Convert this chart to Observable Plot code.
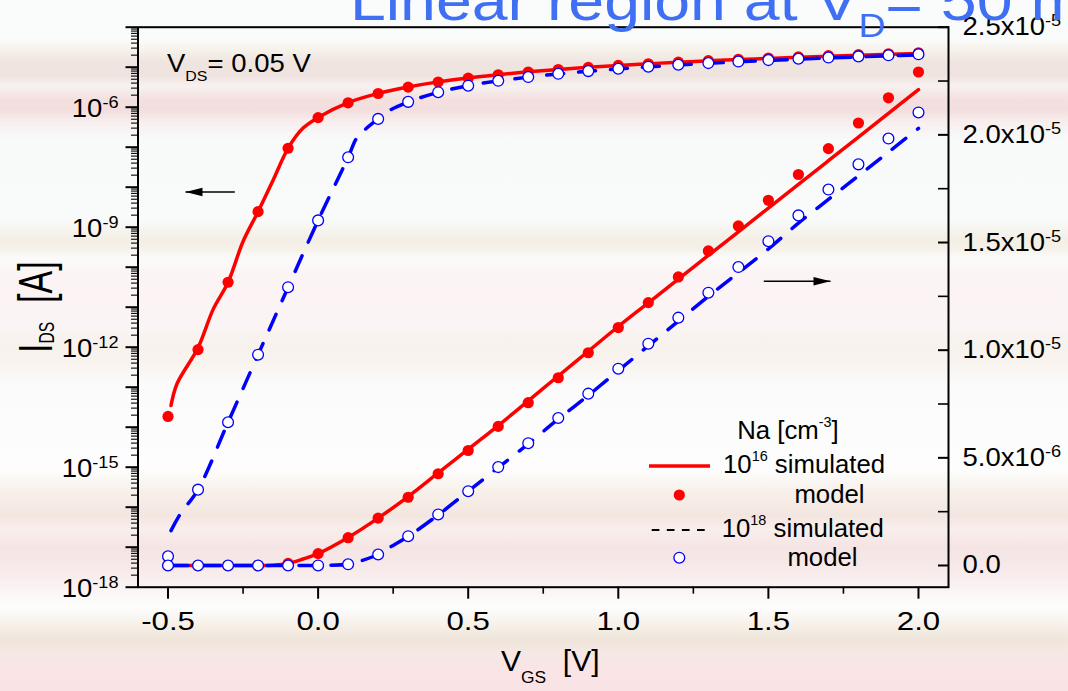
<!DOCTYPE html>
<html><head><meta charset="utf-8">
<script src="https://cdn.jsdelivr.net/npm/d3@7"></script>
<script src="https://cdn.jsdelivr.net/npm/@observablehq/plot@0.6"></script>
<style>
html,body{margin:0;padding:0;width:1068px;height:691px;overflow:hidden;}
body{position:relative;font-family:"Liberation Sans",Arial,sans-serif;
background:linear-gradient(to bottom,
 #fafbfc 0px,#fafbfb 40px,#f6f2ea 50px,#f0e4df 62px,#efe3df 75px,#f7f1ef 86px,#f3e0df 100px,#f2dede 110px,#f8eeee 122px,#f8fafa 140px,
 #f8fbfa 220px,#f4efe6 238px,#f5f0e8 248px,#fbfbfa 258px,#fbf3f4 275px,#fbf4f5 325px,#f7f2ec 345px,#f8f3ee 362px,#fbfbfb 385px,
 #fdfdfd 470px,#f7f1ea 490px,#f3e6e0 515px,#f8eeec 530px,#f5e4e4 548px,#f8ecec 575px,#fbf6f5 592px,#fdfdfd 608px,#f6f0e8 625px,
 #efe5da 640px,#f5e8e4 652px,#f9e4e6 668px,#f9e3e5 691px);}
#chart{position:absolute;left:0;top:0;}
#overlay{position:absolute;left:0;top:0;pointer-events:none;overflow:hidden;}
</style></head><body>
<div id="chart"></div>
<svg id="overlay" width="1068" height="691"></svg>
<script>
// ---------- data ----------
const vgs = [-0.5,-0.4,-0.3,-0.2,-0.1,0.0,0.1,0.2,0.3,0.4,0.5,0.6,0.7,0.8,0.9,1.0,1.1,1.2,1.3,1.4,1.5,1.6,1.7,1.8,1.9,2.0];
// model, Na = 1e16 cm^-3 (filled red)
const model16 = [1.86e-14,8.7e-13,4.2e-11,2.45e-9,9.4e-8,5.5e-7,1.29e-6,2.2e-6,3.17e-6,4.26e-6,5.34e-6,6.46e-6,7.56e-6,8.72e-6,9.88e-6,1.105e-5,1.221e-5,1.34e-5,1.461e-5,1.577e-5,1.696e-5,1.816e-5,1.936e-5,2.055e-5,2.172e-5,2.292e-5];
// model, Na = 1e18 cm^-3 (open blue)
const model18 = [5.9e-18,2.75e-16,1.33e-14,6.5e-13,3.16e-11,1.48e-9,5.6e-8,5.1e-7,1.36e-6,2.37e-6,3.45e-6,4.57e-6,5.68e-6,6.85e-6,7.98e-6,9.14e-6,1.03e-5,1.151e-5,1.267e-5,1.386e-5,1.506e-5,1.626e-5,1.746e-5,1.863e-5,1.983e-5,2.104e-5];
// simulated, Na = 1e16 (solid red)
const sim16X = [-0.49,-0.47,-0.4,-0.35,-0.3,-0.25,-0.2,-0.15,-0.1,-0.05,0.0,0.1,0.2,0.3,0.4,0.5,0.6,0.7,0.8,0.9,1.0,1.1,1.2,1.3,1.4,1.5,1.6,1.7,1.8,1.9,2.0];
const sim16 = [3.5e-14,1.22e-13,9.7e-13,8.7e-12,4.2e-11,4.4e-10,2.45e-9,1.5e-8,9.4e-8,3.0e-7,5.5e-7,1.3e-6,2.2e-6,3.2e-6,4.3e-6,5.4e-6,6.5e-6,7.65e-6,8.8e-6,9.95e-6,1.11e-5,1.22e-5,1.33e-5,1.44e-5,1.55e-5,1.66e-5,1.77e-5,1.88e-5,1.99e-5,2.10e-5,2.21e-5];
// simulated, Na = 1e18 (dashed blue)
const sim18X = [-0.49,-0.46,-0.4,-0.3,-0.2,-0.1,0.0,0.1,0.127,0.15,0.2,0.24,0.3,0.4,0.5,0.6,0.7,0.8,0.9,1.0,1.1,1.2,1.3,1.4,1.5,1.6,1.7,1.8,1.9,2.0];
const sim18 = [2.6e-17,6.6e-17,2.75e-16,1.33e-14,6.5e-13,3.16e-11,1.48e-9,5.6e-8,1.62e-7,2.5e-7,5.1e-7,8.5e-7,1.35e-6,2.35e-6,3.45e-6,4.55e-6,5.65e-6,6.8e-6,7.9e-6,9.05e-6,1.02e-5,1.135e-5,1.25e-5,1.36e-5,1.47e-5,1.59e-5,1.70e-5,1.81e-5,1.92e-5,2.03e-5];

// axes
const xDomain = [-0.6, 2.1];
const xTicks = [-0.5,0.0,0.5,1.0,1.5,2.0];
const xMinorTicks = [-0.25,0.25,0.75,1.25,1.75];
const logDomain = [1e-18, 1e-4];
const logLabelTicks = [1e-18,1e-15,1e-12,1e-9,1e-6];
const logTickLabels = ["10^{-18}","10^{-15}","10^{-12}","10^{-9}","10^{-6}"];
const linDomain = [-1.008e-6, 2.5e-5];
const linTicks = [0,5e-6,1e-5,1.5e-5,2e-5,2.5e-5];
const linTickLabels = ["0.0","5.0x10^{-6}","1.0x10^{-5}","1.5x10^{-5}","2.0x10^{-5}","2.5x10^{-5}"];
const linMinorTicks = [2.5e-6,7.5e-6,1.25e-5,1.75e-5,2.25e-5];
// annotation arrows
const arrows = [
  {x1:-0.2775, x2:-0.4418, y:7.6e-9, axis:"log"},
  {x1:1.4847, x2:1.7069, y:1.32e-5, axis:"lin"}
];

// ---------- helpers ----------
const L0 = Math.log10(logDomain[0]), L1 = Math.log10(logDomain[1]);
const lin2y = v => 10 ** (L0 + (L1 - L0) * (v - linDomain[0]) / (linDomain[1] - linDomain[0]));
const decades = d3.range(-18, -3).map(e => 10 ** e);
const logMinor = [];
for (let e = -18; e < -4; e++) for (let m = 2; m <= 9; m++) logMinor.push(m * 10 ** e);

const rows = (xs, ys) => xs.map((x, i) => ({x, y: ys[i]}));
const m16 = rows(vgs, model16), m18 = rows(vgs, model18);
const s16 = rows(sim16X, sim16), s18 = rows(sim18X, sim18);
const ly = d => lin2y(d.y);

const RED = "#ff0000", BLUE = "#0000ff";
const headRight = {draw(c){c.moveTo(0,0);c.lineTo(-17,-4.3);c.lineTo(-17,4.3);c.closePath();}};
const headLeft = {draw(c){c.moveTo(0,0);c.lineTo(17,-4.3);c.lineTo(17,4.3);c.closePath();}};
const arrowY = d => d.axis === "lin" ? lin2y(d.y) : d.y;

const chart = Plot.plot({
  width: 1068, height: 691,
  marginTop: 26.7, marginBottom: 104.3, marginLeft: 137.5, marginRight: 120,
  style: {background: "transparent", fontFamily: '"Liberation Sans", Arial, sans-serif', fontSize: "25px", color: "black", overflow: "visible"},
  x: {domain: xDomain},
  y: {type: "log", domain: logDomain},
  marks: [
    Plot.line(s16, {x: "x", y: "y", stroke: RED, strokeWidth: 3.5, curve: "catmull-rom"}),
    Plot.line(s16, {x: "x", y: ly, stroke: RED, strokeWidth: 3.5, curve: "catmull-rom"}),
    Plot.dot(m16, {x: "x", y: "y", r: 5.6, fill: RED}),
    Plot.dot(m16, {x: "x", y: ly, r: 5.6, fill: RED}),
    Plot.line(s18, {x: "x", y: "y", stroke: BLUE, strokeWidth: 3.5, strokeDasharray: "17,15", strokeLinecap: "round", curve: "catmull-rom"}),
    Plot.line(s18, {x: "x", y: ly, stroke: BLUE, strokeWidth: 3.5, strokeDasharray: "17,15", strokeLinecap: "round", curve: "catmull-rom"}),
    Plot.dot(m18, {x: "x", y: "y", r: 5.4, fill: "white", stroke: BLUE, strokeWidth: 1.3}),
    Plot.dot(m18, {x: "x", y: ly, r: 5.4, fill: "white", stroke: BLUE, strokeWidth: 1.3}),
    // arrows
    Plot.link(arrows, {x1: "x1", x2: "x2", y1: arrowY, y2: arrowY, stroke: "black", strokeWidth: 1.6}),
    Plot.dot(arrows.filter(d => d.x2 > d.x1), {x: "x2", y: arrowY, symbol: headRight, fill: "black", stroke: "none"}),
    Plot.dot(arrows.filter(d => d.x2 < d.x1), {x: "x2", y: arrowY, symbol: headLeft, fill: "black", stroke: "none"}),
    Plot.frame({stroke: "black", strokeWidth: 2}),
    // x axis
    Plot.axisX({ticks: xTicks, tickSize: 12, strokeWidth: 2, tickFormat: () => "", label: null}),
    Plot.axisX({ticks: xMinorTicks, tickSize: 7, strokeWidth: 1.6, tickFormat: () => "", label: null}),
    Plot.axisX({ticks: xTicks, tickSize: 0, tickPadding: 24, fontSize: 26, tickFormat: d => d.toFixed(1), label: null}),
    // left log axis
    Plot.axisY({ticks: decades, tickSize: 12, strokeWidth: 2, tickFormat: () => "", label: null}),
    Plot.axisY({ticks: logMinor, tickSize: 6.5, strokeWidth: 1.1, tickFormat: () => "", label: null}),
    Plot.text(logLabelTicks, {y: d => d, frameAnchor: "left", textAnchor: "end", dx: -19.5, dy: 2, text: (d, i) => logTickLabels[i]}),
    // right linear axis
    Plot.axisY({anchor: "right", ticks: linTicks.map(lin2y), tickSize: -11, strokeWidth: 2, tickFormat: () => "", label: null}),
    Plot.axisY({anchor: "right", ticks: linMinorTicks.map(lin2y), tickSize: -11, strokeWidth: 1.6, tickFormat: () => "", label: null}),
    Plot.text(linTicks, {y: lin2y, frameAnchor: "right", textAnchor: "start", dx: 14, text: (d, i) => linTickLabels[i]}),
    // axis titles & annotation
    Plot.text(["V_{GS}  [V]"], {frameAnchor: "bottom", textAnchor: "middle", dx: 7, dy: 84, fontSize: 30}),
    Plot.text(["I_{DS}  [A]"], {frameAnchor: "left", textAnchor: "middle", dx: -101.2, dy: 0, rotate: -90, fontSize: 34}),
    Plot.text(["V_{DS}= 0.05 V"], {frameAnchor: "top-left", dx: 29, dy: 27, fontSize: 25})
  ]
});
document.getElementById("chart").appendChild(chart);

// ---------- overlay: title + legend ----------
const ov = d3.select("#overlay");
ov.append("text").attr("class", "title").attr("x", 350).attr("y", 20)
  .attr("font-size", 56).attr("fill", "#3f6ff2").text("Linear region at V_{D}= 50 mV");
const lg = ov.append("g").attr("font-size", 25).attr("fill", "black");
lg.append("text").attr("class", "leg").attr("x", 788).attr("y", 439).attr("text-anchor", "middle").text("Na [cm^{-3}]");
lg.append("line").attr("x1", 649).attr("x2", 710).attr("y1", 466).attr("y2", 466).attr("stroke", RED).attr("stroke-width", 3.5);
lg.append("text").attr("class", "leg").attr("x", 723).attr("y", 473).text("10^{16} simulated");
lg.append("circle").attr("cx", 679.3).attr("cy", 495).attr("r", 5.6).attr("fill", RED);
lg.append("text").attr("class", "leg").attr("x", 829.5).attr("y", 503).attr("text-anchor", "middle").text("model");
lg.append("line").attr("x1", 651.7).attr("x2", 705).attr("y1", 530).attr("y2", 530).attr("stroke", "black").attr("stroke-width", 2).attr("stroke-dasharray", "7.7,7.4");
lg.append("text").attr("class", "leg").attr("x", 721.7).attr("y", 537).text("10^{18} simulated");
lg.append("circle").attr("cx", 679.3).attr("cy", 557.7).attr("r", 5.4).attr("fill", "white").attr("stroke", BLUE).attr("stroke-width", 1.3);
lg.append("text").attr("class", "leg").attr("x", 822.5).attr("y", 566).attr("text-anchor", "middle").text("model");

// ---------- rich text (super/subscripts) and horizontal stretch ----------
const NS = "http://www.w3.org/2000/svg";
function richify(el, o) {
  const s = el.textContent;
  if (!/[\^_]\{/.test(s)) return;
  const fs = parseFloat(getComputedStyle(el).fontSize);
  const parts = []; const re = /([\^_])\{([^}]*)\}/g; let last = 0, m;
  while ((m = re.exec(s))) {
    if (m.index > last) parts.push({t: s.slice(last, m.index), k: ""});
    parts.push({t: m[2], k: m[1]}); last = re.lastIndex;
  }
  if (last < s.length) parts.push({t: s.slice(last), k: ""});
  el.textContent = "";
  let shift = 0;
  for (const p of parts) {
    const ts = document.createElementNS(NS, "tspan");
    const target = p.k === "^" ? -o.supShift * fs : p.k === "_" ? o.subShift * fs : 0;
    if (target !== shift) ts.setAttribute("dy", (target - shift).toFixed(2));
    shift = target;
    if (p.k) ts.setAttribute("font-size", ((p.k === "^" ? o.supSize : o.subSize) * fs).toFixed(2));
    ts.textContent = p.t;
    el.appendChild(ts);
  }
}
function stretch(el, k) {
  const len = el.getComputedTextLength();
  if (len > 0 && k !== 1) { el.setAttribute("textLength", (len * k).toFixed(2)); el.setAttribute("lengthAdjust", "spacingAndGlyphs"); }
}
const axisOpt = {supSize: 0.66, supShift: 0.36, subSize: 0.58, subShift: 0.38};
const yTitleOpt = {supSize: 0.66, supShift: 0.36, subSize: 0.46, subShift: 0.05};
const legOpt = {supSize: 0.56, supShift: 0.48, subSize: 0.58, subShift: 0.38};
const titleOpt = {supSize: 0.6, supShift: 0.4, subSize: 0.58, subShift: 0.3};

d3.select(chart).selectAll("text").each(function () {
  const raw = this.textContent;
  const grp = this.parentNode.getAttribute("aria-label") || "";
  if (raw.startsWith("I_")) {
    richify(this, yTitleOpt);
    const tr = this.getAttribute("transform");
    if (tr) this.setAttribute("transform", tr + " scale(1,1.4)");
    return;
  }
  richify(this, axisOpt);
  let k = 1.1;
  if (grp.startsWith("x-axis")) k = 1.2;
  else if (raw.startsWith("V_{GS}")) k = 1.0;
  stretch(this, k);
});
ov.selectAll("text.leg").each(function () { richify(this, legOpt); stretch(this, 1.03); });
ov.selectAll("text.title").each(function () { richify(this, titleOpt); stretch(this, 1.15); });
</script>
</body></html>
